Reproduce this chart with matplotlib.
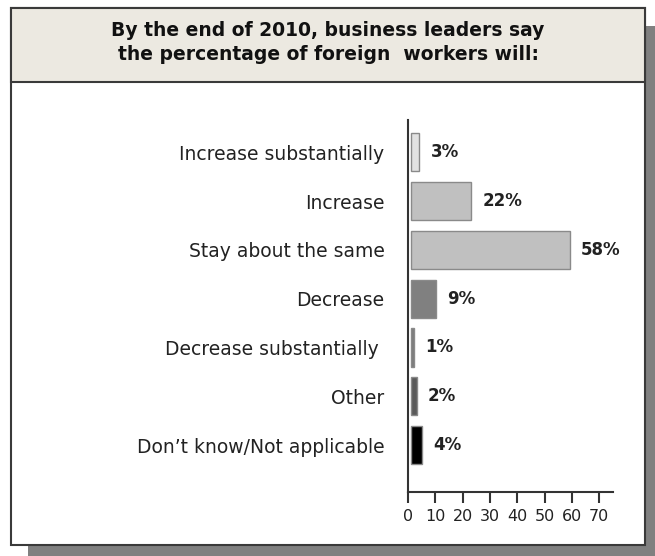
import matplotlib
matplotlib.use("Agg")
import matplotlib.pyplot as plt
from matplotlib.patches import Rectangle

categories = ["Increase substantially", "Increase", "Stay about the same", "Decrease",
              "Decrease substantially ", "Other", "Don\u2019t know/Not applicable"]
values = [3, 22, 58, 9, 1, 2, 4]
value_labels = ["3%", "22%", "58%", "9%", "1%", "2%", "4%"]
bar_colors = ["#e2e2e2", "#c0c0c0", "#c0c0c0", "#808080", "#7c7c7c", "#5a5a5a", "#000000"]
xticks = [0, 10, 20, 30, 40, 50, 60, 70]
title = "By the end of 2010, business leaders say\nthe percentage of foreign  workers will:"

W, H = 655, 556
fig = plt.figure(figsize=(W / 100, H / 100), dpi=100)
fig.patch.set_facecolor("white")

def px(x0, y0, x1, y1):
    return (x0 / W, 1 - y1 / H), (x1 - x0) / W, (y1 - y0) / H

# shadow
xy, w, h = px(28, 26, 655, 556)
fig.patches.append(Rectangle(xy, w, h, transform=fig.transFigure, facecolor="#808080",
                             edgecolor="none", zorder=0))
# main box
xy, w, h = px(11, 8, 645, 545)
fig.patches.append(Rectangle(xy, w, h, transform=fig.transFigure, facecolor="white",
                             edgecolor="#3a3a3a", linewidth=1.5, zorder=1))
# header band
xy, w, h = px(11, 8, 645, 82)
fig.patches.append(Rectangle(xy, w, h, transform=fig.transFigure, facecolor="#ece9e1",
                             edgecolor="#3a3a3a", linewidth=1.5, zorder=2))
fig.text(328 / W, 1 - 42.5 / H, title, ha="center", va="center", fontsize=13.5,
         fontweight="bold", color="#111111", linespacing=1.35, zorder=3)

# axes: x=0 at px 408, x=75 at px 613; top 120, bottom 492
left = 408 / W
width = (613 - 408) / W
bottom = 1 - 492 / H
height = (492 - 120) / H
ax = fig.add_axes([left, bottom, width, height], zorder=5)
ax.patch.set_alpha(0)

ypos = list(range(len(categories)))
ax.barh(ypos, values, left=1.2, height=0.78, color=bar_colors, edgecolor="#8a8a8a", linewidth=1)
for y, v, lab in zip(ypos, values, value_labels):
    ax.annotate(lab, xy=(v + 1.2, y), xytext=(8, 0), textcoords="offset points",
                va="center", ha="left", fontsize=12, fontweight="bold", color="#222222")

ax.set_xlim(0, 75)
ax.set_ylim(6.96, -0.66)
ax.set_xticks(xticks)
ax.set_xticklabels([str(t) for t in xticks], fontsize=11.5, color="#222222")
ax.tick_params(axis="x", direction="out", length=8, width=1.5, color="#333333", pad=4)
ax.set_yticks(ypos)
ax.set_yticklabels(categories, fontsize=13.5, color="#222222")
ax.tick_params(axis="y", length=0, pad=17)
for s in ["top", "right"]:
    ax.spines[s].set_visible(False)
for s in ["left", "bottom"]:
    ax.spines[s].set_color("#333333")
    ax.spines[s].set_linewidth(1.5)

fig.savefig("out.png", dpi=100)
